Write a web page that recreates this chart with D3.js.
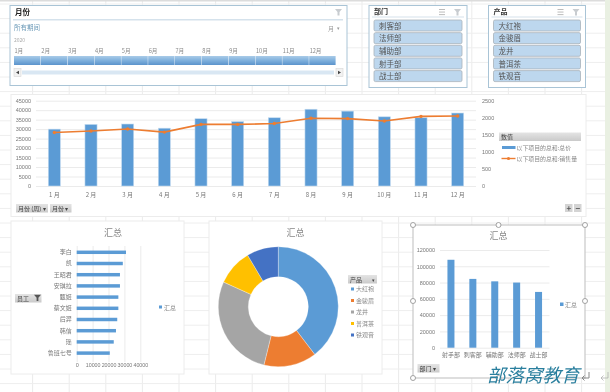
<!DOCTYPE html>
<html>
<head>
<meta charset="utf-8">
<title></title>
<script src="https://d3js.org/d3.v7.min.js"></script>
<style type="text/css">
	html, body { margin: 0; padding: 0; background: #fff; overflow: hidden; }
	svg { display: block; filter: blur(0.5px); }
	text { font-family: "Noto Sans CJK SC", "Noto Sans", sans-serif; fill: #777; }
	.axis path { display: none; }
	.axis line { stroke: #ebebeb; }
	.axis text { font-family: "Liberation Sans", "Noto Sans CJK SC", sans-serif; font-size: 5.5px; fill: #777; }
	.cat text { font-family: "Noto Sans CJK SC", sans-serif; font-size: 6px; }
</style>
</head>
<body>
<script type="text/javascript">

var months = ["1月","2月","3月","4月","5月","6月","7月","8月","9月","10月","11月","12月"];
var monthTotal = [30000,32500,32700,30500,35500,34000,36000,40500,39500,36500,36000,38500];
var monthSales = [1570,1610,1670,1580,1805,1805,1830,1985,1975,1905,2040,2050];

var staff = ["李白","凯","王昭君","安琪拉","甄姬","蔡文姬","后羿","韩信","瑶","鲁班七号"];
var staffTotal = [31000,29000,27200,27200,26200,26200,25500,24700,23300,20800];

var products = ["大红袍","金骏眉","龙井","普洱茶","铁观音"];
var productTotal = [167000,60000,117500,41000,36000];
var productColors = ["#5b9bd5","#ed7d31","#a5a5a5","#ffc000","#4472c4"];

var depts = ["射手部","刺客部","辅助部","法师部","战士部"];
var deptTotal = [108000,84500,81500,80000,68500];
var slicerDepts = ["刺客部","法师部","辅助部","射手部","战士部"];

var blue = "#5b9bd5", orange = "#ed7d31";

var svg = d3.select('body').append('svg')
	.attr('width', 610)
	.attr('height', 392);

var defs = svg.append('defs');

function grad(id, stops) {
	var g = defs.append('linearGradient').attr('id', id)
		.attr('x1', 0).attr('x2', 0).attr('y1', 0).attr('y2', 1);
	stops.forEach(function(s, i) {
		g.append('stop').attr('offset', i / (stops.length - 1)).attr('stop-color', s);
	});
}
grad('band', ['#a9cbe8', '#7fb0dc', '#5b93cc']);
grad('head', ['#e4e4e4', '#cacaca']);

// sheet grid
var sheet = svg.append('g');
d3.range(-4, 610, 36.6).forEach(function(x) {
	sheet.append('line').attr('x1', x).attr('x2', x).attr('y1', 0).attr('y2', 392).attr('stroke', '#ebebeb');
});
d3.range(4, 392, 14.6).forEach(function(y) {
	sheet.append('line').attr('x1', 0).attr('x2', 610).attr('y1', y).attr('y2', y).attr('stroke', '#eeeeee');
});
svg.append('rect').attr('x', 0).attr('y', 0).attr('width', 610).attr('height', 1.5).attr('fill', '#dcdcdc');
svg.append('rect').attr('x', 605).attr('y', 0).attr('width', 5).attr('height', 392).attr('fill', '#e9f0e2');

function label(g, x, y, s, size, color, anchor, weight) {
	return g.append('text').attr('x', x).attr('y', y).text(s)
		.style('font-size', size + 'px')
		.style('fill', color || '#777')
		.attr('text-anchor', anchor || 'start')
		.style('font-weight', weight || 'normal');
}

function panel(x, y, w, h, stroke) {
	return svg.append('rect').attr('x', x).attr('y', y).attr('width', w).attr('height', h)
		.attr('fill', '#fff').attr('stroke', stroke || '#ececec');
}

function pivotBtn(x, y, w, s) {
	svg.append('rect').attr('x', x).attr('y', y).attr('width', w).attr('height', 8.5).attr('fill', 'url(#head)');
	label(svg, x + 2, y + 6.8, s, 6, '#444');
}

function filterIcon(x, y) {
	svg.append('path').attr('d', 'M' + x + ',' + y + 'h7l-2.5,3v3.5h-2v-3.5z').attr('fill', '#c8ccd0');
}

function listIcon(x, y) {
	for (var i = 0; i < 3; i++) {
		svg.append('rect').attr('x', x).attr('y', y + i * 2.6).attr('width', 6).attr('height', 0.9).attr('fill', '#b5b5b5');
	}
}

// timeline slicer
panel(10, 5.5, 337, 80, '#a9c4d6');
label(svg, 15, 15, "月份", 7.5, '#222', 'start', 'bold');
svg.append('rect').attr('x', 13).attr('y', 19).attr('width', 330).attr('height', 1.5).attr('fill', '#d5e2ec');
filterIcon(335, 9);
label(svg, 14, 29.5, "所有期间", 6.5, '#6c9ab8');
label(svg, 328, 31, "月", 6, '#999');
label(svg, 337, 30, "▾", 5, '#999');
label(svg, 14, 42, "2020", 5, '#aaa');

var timeX = d3.scaleBand().domain(months).range([14, 336]);
var timeG = svg.append('g');
timeG.selectAll('text.tm').data(months).enter().append('text')
	.attr('x', function(d) { return timeX(d) + 0.5; })
	.attr('y', 53)
	.style('font-size', '5.6px').style('fill', '#888')
	.text(function(d) { return d; });
timeG.selectAll('rect').data(months).enter().append('rect')
	.attr('x', function(d) { return timeX(d); })
	.attr('y', 56)
	.attr('width', timeX.bandwidth() - 0.4)
	.attr('height', 9)
	.attr('fill', 'url(#band)');
svg.append('rect').attr('x', 22).attr('y', 70.5).attr('width', 312).attr('height', 4).attr('fill', '#d9e7f3');
[14, 336].forEach(function(x, i) {
	svg.append('rect').attr('x', x).attr('y', 68.5).attr('width', 7).attr('height', 8).attr('fill', '#f2f2f2').attr('stroke', '#d8d8d8').attr('stroke-width', 0.6);
	svg.append('path').attr('d', i == 0 ? 'M19,70.8v3.4l-3,-1.7z' : 'M338,70.8v3.4l3,-1.7z').attr('fill', '#444');
});

// list slicers
function slicer(x, w, title, items) {
	panel(x, 5.5, w, 82, '#a9c4d6');
	label(svg, x + 5, 14, title, 7, '#333', 'start', 'bold');
	svg.append('rect').attr('x', x + 3).attr('y', 16.5).attr('width', w - 6).attr('height', 1).attr('fill', '#d5e2ec');
	listIcon(x + w - 28, 9);
	filterIcon(x + w - 13, 9);
	var g = svg.append('g');
	items.forEach(function(s, i) {
		var y = 20 + i * 12.65;
		g.append('rect').attr('x', x + 5).attr('y', y).attr('width', w - 10).attr('height', 11)
			.attr('rx', 1.5).attr('fill', '#bdd7ee').attr('stroke', '#a9b2ba').attr('stroke-width', 0.8);
		label(g, x + 10, y + 8.6, s, 7.5, '#555');
	});
}
slicer(369, 98, "部门", slicerDepts);
slicer(488.5, 97, "产品", products);

// month combo chart
panel(11, 94.5, 575, 122);
var mX = d3.scaleBand().domain(months).range([36, 476]).paddingInner(0.67).paddingOuter(0.335);
var mY = d3.scaleLinear().domain([0, 45000]).range([186, 100.7]);
var mY2 = d3.scaleLinear().domain([0, 2500]).range([186, 100.7]);

svg.append('g').attr('class', 'axis').attr('transform', 'translate(36,0)')
	.call(d3.axisLeft(mY).ticks(9).tickSize(-440).tickPadding(5).tickFormat(d3.format('d')));
svg.append('g').attr('class', 'axis').attr('transform', 'translate(476,0)')
	.call(d3.axisRight(mY2).ticks(5).tickSize(0).tickPadding(6).tickFormat(d3.format('d')));
svg.append('g').attr('class', 'axis cat').attr('transform', 'translate(0,186)')
	.call(d3.axisBottom(mX).tickSize(0).tickPadding(7).tickFormat(function(d) { return d.replace('月', ' 月'); }));

svg.selectAll('rect.mbar').data(monthTotal).enter().append('rect').attr('class', 'mbar')
	.attr('x', function(d, i) { return mX(months[i]); })
	.attr('y', function(d) { return mY(d); })
	.attr('width', mX.bandwidth())
	.attr('height', function(d) { return 186 - mY(d); })
	.attr('fill', blue)
	.attr('stroke', '#c5dcf0').attr('stroke-width', 0.6);

var salesLine = d3.line()
	.x(function(d, i) { return mX(months[i]) + mX.bandwidth() / 2; })
	.y(function(d) { return mY2(d); });
svg.append('path').attr('d', salesLine(monthSales)).attr('fill', 'none').attr('stroke', orange).attr('stroke-width', 1.6);
svg.selectAll('circle.sale').data(monthSales).enter().append('circle').attr('class', 'sale')
	.attr('cx', function(d, i) { return mX(months[i]) + mX.bandwidth() / 2; })
	.attr('cy', function(d) { return mY2(d); })
	.attr('r', 1.7).attr('fill', orange);

svg.append('rect').attr('x', 499).attr('y', 132.5).attr('width', 82).attr('height', 8.5).attr('fill', 'url(#head)');
label(svg, 501, 139.3, "数值", 6, '#444');
svg.append('rect').attr('x', 502).attr('y', 146).attr('width', 13.5).attr('height', 3).attr('fill', blue);
label(svg, 516.5, 150, "以下项目的总和:总价", 5.9, '#888');
svg.append('line').attr('x1', 501.5).attr('x2', 515.5).attr('y1', 158.5).attr('y2', 158.5).attr('stroke', orange).attr('stroke-width', 1.4);
svg.append('circle').attr('cx', 508.5).attr('cy', 158.5).attr('r', 1.6).attr('fill', orange);
label(svg, 516.5, 161, "以下项目的总和:销售量", 5.9, '#888');

pivotBtn(16, 204, 32, "月份 (周) ▾");
pivotBtn(50, 204, 21.5, "月份 ▾");
[[565, "+"], [574, "−"]].forEach(function(b) {
	svg.append('rect').attr('x', b[0]).attr('y', 204).attr('width', 7.5).attr('height', 8).attr('fill', '#d4d4d4');
	label(svg, b[0] + 3.75, 211, b[1], 8, '#555', 'middle', 'bold');
});

// staff bars
panel(11, 221, 173, 153);
label(svg, 113, 236, "汇总", 9, '#888', 'middle');
var sX = d3.scaleLinear().domain([0, 40000]).range([76.7, 140.3]);
var sY = d3.scaleBand().domain(staff).range([246.7, 358.7]).paddingInner(0.69).paddingOuter(0.345);

svg.append('g').attr('class', 'axis').attr('transform', 'translate(0,362)')
	.call(d3.axisBottom(sX).tickValues([0, 10000, 20000, 30000, 40000]).tickSize(-116).tickPadding(1).tickFormat(d3.format('d')));
svg.selectAll('.axis text').filter(function() { return this.textContent.length == 5 && this.getBoundingClientRect().top > 360; })
	.style('font-size', '5.3px');
svg.append('g').attr('class', 'axis cat').attr('transform', 'translate(76.7,0)')
	.call(d3.axisLeft(sY).tickSize(0).tickPadding(5));
svg.selectAll('rect.sbar').data(staffTotal).enter().append('rect').attr('class', 'sbar')
	.attr('x', sX(0))
	.attr('y', function(d, i) { return sY(staff[i]); })
	.attr('width', function(d) { return sX(d) - sX(0); })
	.attr('height', sY.bandwidth())
	.attr('fill', blue);
pivotBtn(15, 294, 26.5, "员工");
svg.append('path').attr('d', 'M34,294.8h7l-2.6,3v3.2h-1.8v-3.2z').attr('fill', '#555');
svg.append('rect').attr('x', 159).attr('y', 305.5).attr('width', 3).attr('height', 3).attr('fill', blue);
label(svg, 164, 310, "汇总", 6, '#888');

// product donut
panel(209, 221, 173, 153);
label(svg, 295.5, 236, "汇总", 9, '#888', 'middle');
var pie = d3.pie().sort(null);
var arc = d3.arc().innerRadius(30).outerRadius(60);
svg.append('g').attr('transform', 'translate(278.3,306.7)')
	.selectAll('path').data(pie(productTotal)).enter().append('path')
	.attr('d', arc)
	.attr('fill', function(d, i) { return productColors[i]; })
	.attr('stroke', '#fff').attr('stroke-width', 0.3);
svg.append('rect').attr('x', 348).attr('y', 275).attr('width', 29).attr('height', 8.5).attr('fill', 'url(#head)');
label(svg, 350, 281.8, "产品", 6, '#444');
label(svg, 372, 281.5, "▾", 5, '#444');
var pLeg = d3.scalePoint().domain(products).range([289, 335]);
products.forEach(function(p, i) {
	svg.append('rect').attr('x', 351).attr('y', pLeg(p) - 1.5).attr('width', 3).attr('height', 3).attr('fill', productColors[i]);
	label(svg, 356, pLeg(p) + 2.3, p, 6, '#888');
});

// dept bars, selected chart
panel(413, 225, 172, 153, '#c8c8c8').attr('stroke-width', 1.2);
label(svg, 498.5, 239, "汇总", 9, '#888', 'middle');
var dX = d3.scaleBand().domain(depts).range([440, 549.5]).paddingInner(0.68).paddingOuter(0.34);
var dY = d3.scaleLinear().domain([0, 120000]).range([347.7, 250]);
svg.append('g').attr('class', 'axis').attr('transform', 'translate(440,0)')
	.call(d3.axisLeft(dY).ticks(6).tickSize(-109.5).tickPadding(5).tickFormat(d3.format('d')));
svg.append('g').attr('class', 'axis cat').attr('transform', 'translate(0,347.7)')
	.call(d3.axisBottom(dX).tickSize(0).tickPadding(5));
svg.selectAll('rect.dbar').data(deptTotal).enter().append('rect').attr('class', 'dbar')
	.attr('x', function(d, i) { return dX(depts[i]); })
	.attr('y', function(d) { return dY(d); })
	.attr('width', dX.bandwidth())
	.attr('height', function(d) { return 347.7 - dY(d); })
	.attr('fill', blue);
svg.append('rect').attr('x', 560).attr('y', 302.5).attr('width', 3.5).attr('height', 3.5).attr('fill', blue);
label(svg, 565, 306.8, "汇总", 6, '#888');
pivotBtn(417.5, 364, 22, "部门 ▾");

[[413,225],[498.5,225],[585,225],[413,301],[585,301],[413,378],[498.5,378]].forEach(function(h) {
	svg.append('circle').attr('cx', h[0]).attr('cy', h[1]).attr('r', 2.5)
		.attr('fill', '#fff').attr('stroke', '#999').attr('stroke-width', 0.9);
});

label(svg, 487, 382, "部落窝教育", 18.5, '#2a7f9e').style('font-style', 'italic');

// return-arrow marks
[[589, 372, '#888', 1], [608, 372, '#aaa', 0.7]].forEach(function(m) {
	svg.append('path')
		.attr('d', 'M' + m[0] + ',' + m[1] + 'v6h-7m2.5,-2.5l-2.5,2.5l2.5,2.5')
		.attr('fill', 'none').attr('stroke', m[2]).attr('stroke-width', m[3]);
});

</script>
</body>
</html>
